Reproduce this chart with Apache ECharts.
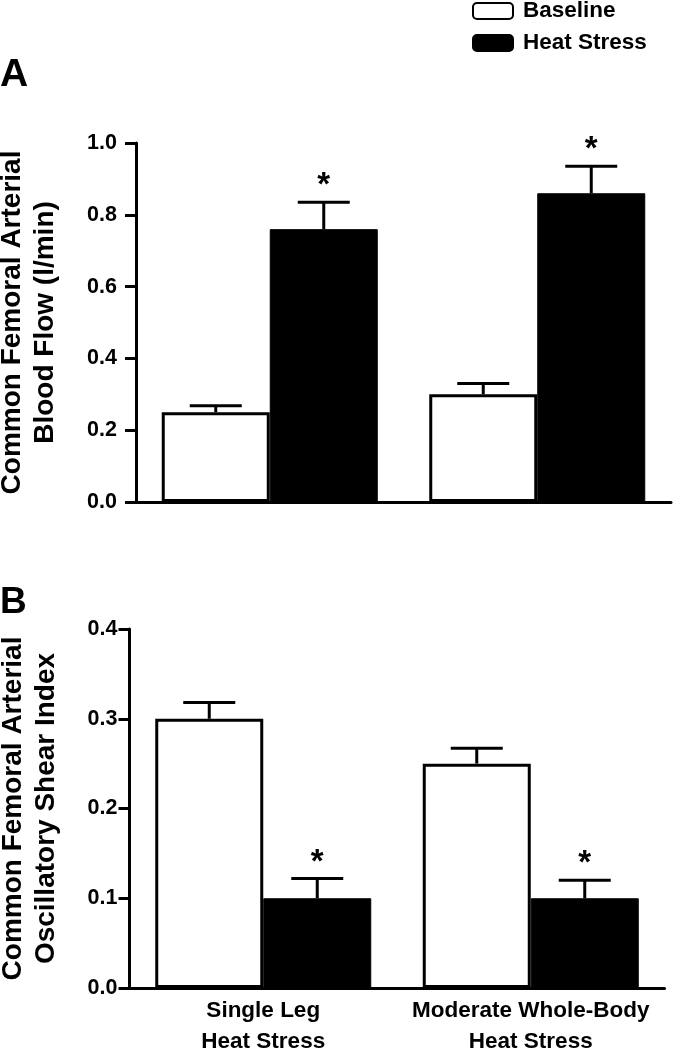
<!DOCTYPE html>
<html>
<head>
<meta charset="utf-8">
<script src="https://cdn.jsdelivr.net/npm/echarts@6/dist/echarts.min.js"></script>
<style>
html,body{margin:0;padding:0;background:#fff;}
#chart{width:677px;height:1051px;}
</style>
</head>
<body>
<div id="chart"></div>
<script>
// ---- data ----
const categories = ['Single Leg\nHeat Stress', 'Moderate Whole-Body\nHeat Stress'];
const seriesNames = ['Baseline', 'Heat Stress'];
// Panel A: Common femoral arterial blood flow (l/min)
const flowBaseline = [0.25, 0.30];
const flowBaselineErr = [0.018, 0.03];
const flowHeat = [0.76, 0.86];
const flowHeatErr = [0.075, 0.075];
const flowSignificant = [true, true];
// Panel B: Oscillatory shear index
const osiBaseline = [0.30, 0.25];
const osiBaselineErr = [0.018, 0.017];
const osiHeat = [0.10, 0.10];
const osiHeatErr = [0.022, 0.02];
const osiSignificant = [true, true];
// axis ranges
const flowAxis = {min: 0, max: 1.0, interval: 0.2};
const osiAxis = {min: 0, max: 0.4, interval: 0.1};

const FONT = 'Liberation Sans, Arial, Helvetica, sans-serif';
const BAR_W = 108;
const CAP_HALF = 26;

function errRender(offsetSign) {
  return function (params, api) {
    const x = api.value(0), v = api.value(1), e = api.value(2), star = api.value(3);
    const base = api.coord([x, v]);
    const top = api.coord([x, v + e]);
    const cx = base[0] + offsetSign * BAR_W / 2;
    const children = [
      {type: 'line', shape: {x1: cx, y1: base[1], x2: cx, y2: top[1]}, style: {stroke: '#000', lineWidth: 3}},
      {type: 'line', shape: {x1: cx - CAP_HALF, y1: top[1], x2: cx + CAP_HALF, y2: top[1]}, style: {stroke: '#000', lineWidth: 3}}
    ];
    if (star) {
      children.push({type: 'text', style: {text: '*', x: cx, y: top[1] - 16, textAlign: 'center', textVerticalAlign: 'middle',
        font: 'bold 33px ' + FONT, fill: '#000'}});
    }
    return {type: 'group', children: children};
  };
}

function errData(vals, errs, sig) {
  return vals.map((v, i) => [i, v, errs[i], sig ? (sig[i] ? 1 : 0) : 0]);
}

const yAxisCommon = {
  type: 'value',
  axisLine: {show: true, lineStyle: {color: '#000', width: 3}},
  axisTick: {show: true, length: 11, lineStyle: {color: '#000', width: 3}},
  splitLine: {show: false},
  nameLocation: 'middle',
  nameRotate: 90,
  nameTextStyle: {fontSize: 28, fontWeight: 'bold', color: '#000', fontFamily: FONT, lineHeight: 33},
};

const option = {
  backgroundColor: '#fff',
  animation: false,
  textStyle: {fontFamily: FONT},
  legend: {
    data: seriesNames,
    orient: 'vertical',
    left: 472,
    top: -2,
    padding: 0,
    itemWidth: 40,
    itemHeight: 16,
    itemGap: 6,
    icon: 'roundRect',
    textStyle: {fontSize: 22.5, fontWeight: 'bold', color: '#000', fontFamily: FONT, lineHeight: 26, padding: [0, 0, 0, 5]}
  },
  graphic: [
    {type: 'text', left: 0, top: 56, style: {text: 'A', font: 'bold 39px ' + FONT, fill: '#000'}},
    {type: 'text', left: 0, top: 584, style: {text: 'B', font: 'bold 37px ' + FONT, fill: '#000'}}
  ],
  grid: [
    {left: 136, top: 143, width: 535, height: 359, containLabel: false, outerBoundsMode: 'none'},
    {left: 129.5, top: 629, width: 535, height: 359, containLabel: false, outerBoundsMode: 'none'}
  ],
  xAxis: [
    {type: 'category', gridIndex: 0, data: categories,
      axisLine: {lineStyle: {color: '#000', width: 3}}, axisTick: {show: false}, axisLabel: {show: false}},
    {type: 'category', gridIndex: 1, data: categories,
      axisLine: {lineStyle: {color: '#000', width: 3}}, axisTick: {show: false},
      axisLabel: {interval: 0, hideOverlap: false, fontSize: 22.5, fontWeight: 'bold', color: '#000', fontFamily: FONT, lineHeight: 31, margin: 7}}
  ],
  yAxis: [
    Object.assign({}, yAxisCommon, {gridIndex: 0, min: flowAxis.min, max: flowAxis.max, interval: flowAxis.interval,
      name: 'Common Femoral Arterial\nBlood Flow (l/min)', nameGap: 74,
      axisLabel: {fontSize: 21.5, fontWeight: 'bold', color: '#000', fontFamily: FONT, margin: 19,
        formatter: v => v.toFixed(1)}}),
    Object.assign({}, yAxisCommon, {gridIndex: 1, min: osiAxis.min, max: osiAxis.max, interval: osiAxis.interval,
      name: 'Common Femoral Arterial\nOscillatory Shear Index', nameGap: 67,
      axisLabel: {fontSize: 21.5, fontWeight: 'bold', color: '#000', fontFamily: FONT, margin: 12,
        formatter: v => v.toFixed(1)}})
  ],
  series: [
    {name: 'Baseline', type: 'bar', xAxisIndex: 0, yAxisIndex: 0, data: flowBaseline, barWidth: BAR_W, barGap: '0%',
      itemStyle: {color: '#fff', borderColor: '#000', borderWidth: 3}},
    {name: 'Heat Stress', type: 'bar', xAxisIndex: 0, yAxisIndex: 0, data: flowHeat, barWidth: BAR_W, barGap: '0%',
      itemStyle: {color: '#000', borderColor: '#000', borderWidth: 1}},
    {name: 'Baseline', type: 'bar', xAxisIndex: 1, yAxisIndex: 1, data: osiBaseline, barWidth: BAR_W, barGap: '0%',
      itemStyle: {color: '#fff', borderColor: '#000', borderWidth: 3}},
    {name: 'Heat Stress', type: 'bar', xAxisIndex: 1, yAxisIndex: 1, data: osiHeat, barWidth: BAR_W, barGap: '0%',
      itemStyle: {color: '#000', borderColor: '#000', borderWidth: 1}},
    {type: 'custom', xAxisIndex: 0, yAxisIndex: 0, renderItem: errRender(-1), data: errData(flowBaseline, flowBaselineErr, null), z: 5},
    {type: 'custom', xAxisIndex: 0, yAxisIndex: 0, renderItem: errRender(1), data: errData(flowHeat, flowHeatErr, flowSignificant), z: 5},
    {type: 'custom', xAxisIndex: 1, yAxisIndex: 1, renderItem: errRender(-1), data: errData(osiBaseline, osiBaselineErr, null), z: 5},
    {type: 'custom', xAxisIndex: 1, yAxisIndex: 1, renderItem: errRender(1), data: errData(osiHeat, osiHeatErr, osiSignificant), z: 5}
  ]
};

const chart = echarts.init(document.getElementById('chart'), null, {renderer: 'canvas'});
chart.setOption(option);
</script>
</body>
</html>
